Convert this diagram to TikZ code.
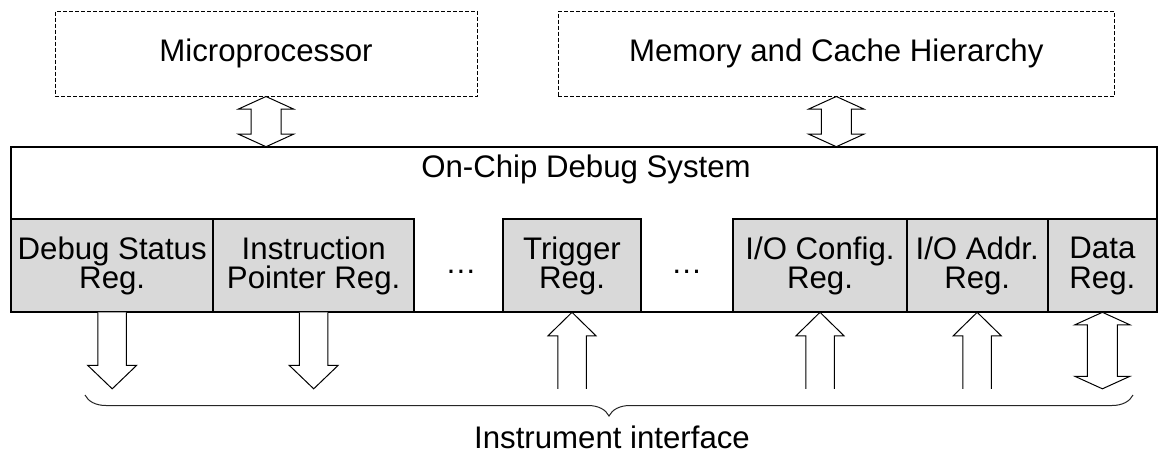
\documentclass[tikz,border=0pt]{standalone}
\usepackage{fontspec}
\setmainfont{Liberation Sans}
\usetikzlibrary{calc,decorations.pathreplacing}
\definecolor{reggray}{RGB}{217,217,217}

\begin{document}
\begin{tikzpicture}[x=0.5pt,y=-0.5pt,
  every node/.style={font={\fontsize{15.6pt}{14.8pt}\selectfont}, align=center, inner sep=0pt, outer sep=0pt},
  extbox/.style={draw, line width=0.5pt, dash pattern=on 2pt off 1pt, minimum height=42.75pt},
  sysbox/.style={draw, line width=1pt, fill=white},
  regbox/.style={draw, line width=0.9pt, fill=reggray, minimum height=46.5pt},
  blkarrow/.style={draw, line width=0.5pt, fill=white},
  ifbrace/.style={decorate, decoration={brace, mirror, amplitude=10.5pt}, line width=0.5pt, black!85}]
  \useasboundingbox (0,0) rectangle (1158,452);

  % outside blocks
  \node[extbox, minimum width=211pt] (micro) at (266,53.75) {Microprocessor};
  \node[extbox, minimum width=278pt] (mem) at (836.3,53.75) {Memory and Cache Hierarchy};

  % debug system with its registers
  \node[sysbox, minimum width=573pt, minimum height=82.8pt] (sys) at (584,229.5) {};
  \node (systitle) at (586,169) {On-Chip Debug System};

  \node[regbox, minimum width=101.15pt] (dsr) at (112.2,265.8) {Debug Status\\Reg.};
  \node[regbox, minimum width=100.35pt] (ipr) at (313.7,265.8) {Instruction\\Pointer Reg.};
  \node (gap1) at (461,271.7) {…};
  \node[regbox, minimum width=68.7pt] (trg) at (572,265.8) {Trigger\\Reg.};
  \node (gap2) at (686.7,271.7) {…};
  \node[regbox, minimum width=86.7pt] (ioc) at (820,265.8) {I/O Config.\\Reg.};
  \node[regbox, minimum width=70.5pt] (ioa) at (977.2,265.8) {I/O Addr.\\Reg.};
  \node[regbox, minimum width=54.65pt] (dat) at (1102.4,265.8) {Data\\Reg.};

  \coordinate (micro-to) at (micro.south |- sys.north);
  \coordinate (mem-to) at (mem.south |- sys.north);
  \foreach \r in {dsr,ipr,trg,ioc,ioa,dat}
    \coordinate (\r-end) at ($(\r.south)+(0,76.5)$);

  % two-way block arrows
  \foreach \a/\b in {micro.south/micro-to, mem.south/mem-to, dat.south/dat-end}
    \draw[blkarrow] (\a) -- ($(\a)+(27.5,12.5)$) -- ($(\a)+(15,12.5)$)
      -- ($(\b)+(15,-12.5)$) -- ($(\b)+(27.5,-12.5)$) -- (\b)
      -- ($(\b)+(-27.5,-12.5)$) -- ($(\b)+(-15,-12.5)$)
      -- ($(\a)+(-15,12.5)$) -- ($(\a)+(-27.5,12.5)$) -- cycle;

  % outputs
  \foreach \r in {dsr,ipr}
    \draw[blkarrow] ($(\r.south)+(-14.25,0)$) -- ($(\r-end)+(-14.25,-23.5)$)
      -- ($(\r-end)+(-24.5,-23.5)$) -- (\r-end) -- ($(\r-end)+(24.5,-23.5)$)
      -- ($(\r-end)+(14.25,-23.5)$) -- ($(\r.south)+(14.25,0)$);

  % inputs
  \foreach \r in {trg,ioc,ioa}
    \draw[blkarrow] ($(\r-end)+(-14.25,0)$) -- ($(\r.south)+(-14.25,23.5)$)
      -- ($(\r.south)+(-24,23.5)$) -- (\r.south) -- ($(\r.south)+(24,23.5)$)
      -- ($(\r.south)+(14.25,23.5)$) -- ($(\r-end)+(14.25,0)$);

  \coordinate (if-l) at (85,395);
  \coordinate (if-r) at (1133,395);
  \draw[ifbrace] (if-l) -- (if-r);
  \node (iface) at (612,437) {Instrument interface};
\end{tikzpicture}
\end{document}
